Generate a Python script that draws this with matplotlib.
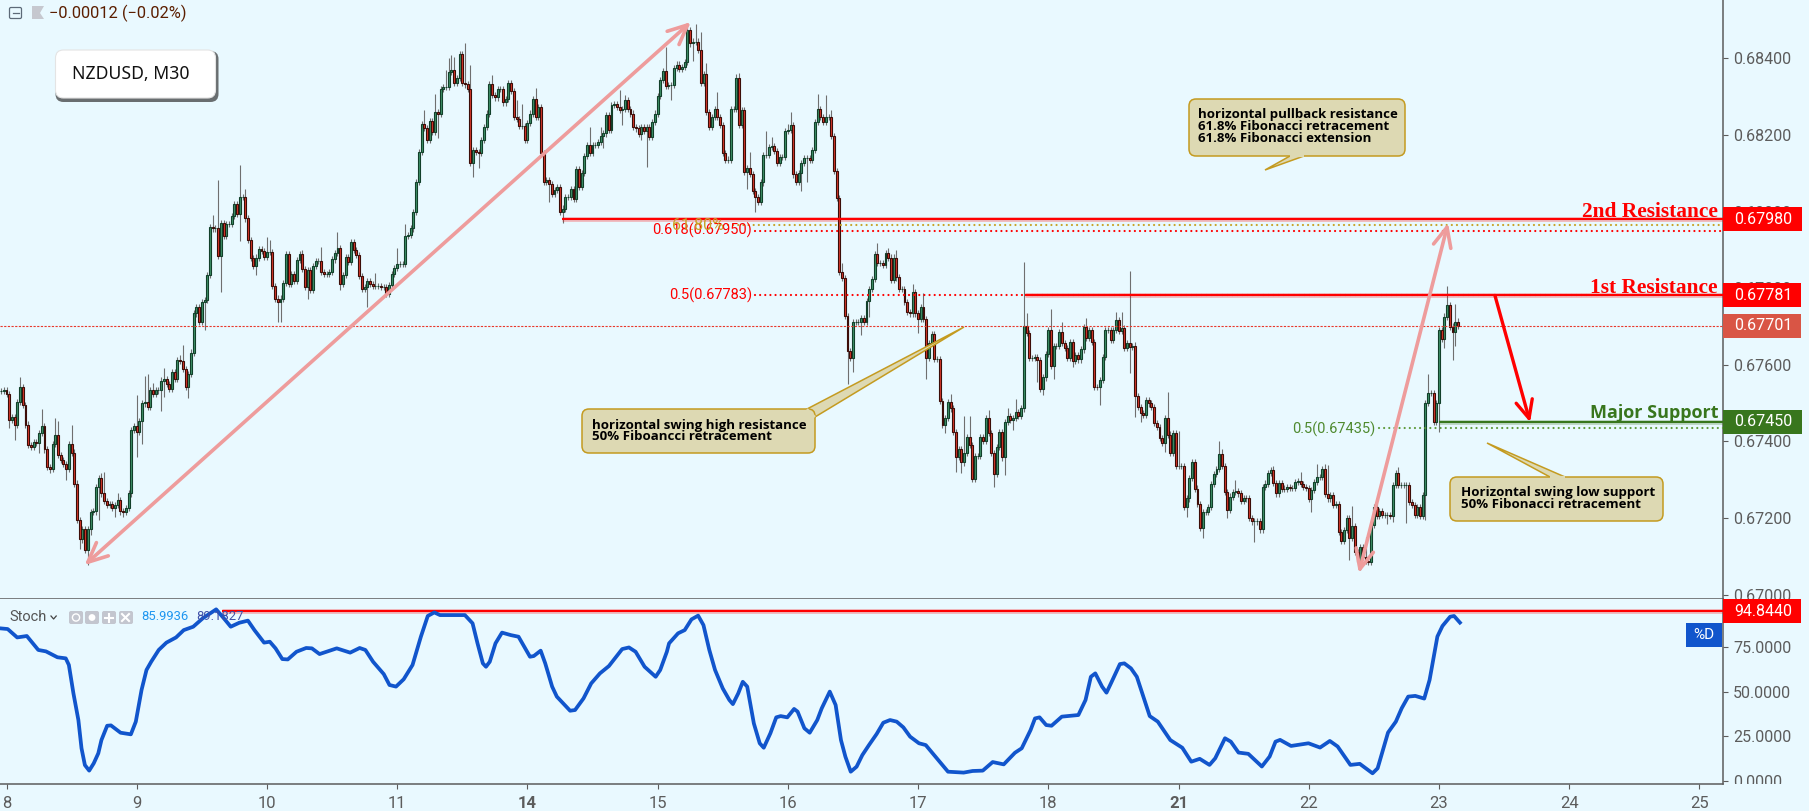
import numpy as np
import matplotlib
matplotlib.use('Agg')
import matplotlib.pyplot as plt
from matplotlib.patches import Circle, FancyBboxPatch, Polygon, Rectangle
from matplotlib.transforms import Bbox

# prices are in points (1e-5), one close per 30 minute bar
closes_wk1 = [67532, 67534, 67523, 67456, 67464, 67442, 67502, 67543, 67495, 67444, 67391, 67386, 67399, 67395, 67421, 67441,
              67379, 67334, 67329, 67393, 67416, 67364, 67351, 67342, 67327, 67392, 67371, 67290, 67194, 67144, 67170, 67116,
              67170, 67216, 67217, 67282, 67304, 67264, 67245, 67234, 67237, 67225, 67233, 67246, 67217, 67215, 67225, 67264,
              67430, 67441, 67424, 67454, 67499, 67504, 67491, 67533, 67525, 67533, 67533, 67559, 67564, 67551, 67538, 67580,
              67562, 67613, 67609, 67588, 67543, 67575, 67632, 67734, 67752, 67711, 67765, 67769]
closes_wk2 = [67834, 67960, 67956, 67956, 67884, 67971, 67936, 67967, 67967, 67988, 68019, 67995, 68037, 68037, 67982, 67926,
              67879, 67858, 67880, 67902, 67898, 67882, 67895, 67895, 67806, 67773, 67765, 67773, 67814, 67888, 67812, 67837,
              67819, 67873, 67888, 67849, 67802, 67847, 67795, 67859, 67872, 67872, 67843, 67836, 67836, 67843, 67875, 67891,
              67906, 67812, 67834, 67882, 67869, 67921, 67900, 67886, 67832, 67799, 67804, 67819, 67811, 67805, 67805, 67805,
              67802, 67802, 67785, 67808, 67837, 67852, 67863, 67863, 67863, 67936, 67939, 67956, 68000, 68078, 68156, 68228,
              68219, 68187, 68237, 68208, 68261, 68254, 68321, 68326, 68326, 68365, 68371, 68337, 68348, 68411, 68337, 68332,
              68319, 68126, 68161, 68156, 68152, 68187, 68221, 68256, 68332, 68304, 68298, 68321, 68321, 68285, 68295, 68336,
              68315, 68248, 68241, 68223, 68223, 68187, 68232, 68256, 68295, 68246, 68272, 68152, 68078, 68082, 68071, 68047,
              68056, 68065, 67998, 68008, 68039, 68039, 68059, 68033, 68110, 68065, 68100, 68146, 68174, 68154, 68174, 68174,
              68182]
closes_wk3 = [68197, 68204, 68252, 68213, 68278, 68281, 68272, 68265, 68269, 68291, 68267, 68256, 68220, 68217, 68202, 68221,
              68210, 68221, 68194, 68233, 68256, 68302, 68343, 68368, 68329, 68331, 68331, 68374, 68384, 68372, 68378, 68391,
              68474, 68439, 68444, 68444, 68423, 68335, 68358, 68259, 68220, 68248, 68267, 68248, 68225, 68154, 68136, 68136,
              68269, 68269, 68350, 68227, 68264, 68104, 68114, 68098, 68053, 68039, 68026, 68076, 68147, 68147, 68169, 68172,
              68159, 68126, 68143, 68143, 68210, 68214, 68225, 68097, 68078, 68101, 68127, 68139, 68139, 68136, 68161, 68234,
              68269, 68246, 68233, 68248, 68248, 68198, 68107, 68036, 67843, 67826, 67727]
closes_wk4 = [67636, 67619, 67712, 67712, 67712, 67721, 67711, 67767, 67797, 67823, 67888, 67865, 67865, 67860, 67891, 67880,
              67821, 67880, 67828, 67799, 67799, 67763, 67737, 67734, 67791, 67734, 67719, 67750, 67719, 67619, 67658, 67680,
              67615, 67615, 67505, 67442, 67460, 67502, 67486, 67425, 67360, 67379, 67345, 67371, 67412, 67390, 67302, 67362,
              67362, 67412, 67402, 67460, 67421, 67369, 67315, 67386, 67425, 67358, 67451, 67467, 67456, 67460, 67477, 67466,
              67486, 67702, 67682, 67617, 67617, 67621, 67612, 67536, 67567, 67628, 67692, 67597, 67649, 67649, 67686, 67656,
              67643, 67619, 67660, 67610, 67625, 67614, 67640, 67699, 67669, 67691, 67660, 67543, 67541, 67560, 67621, 67691,
              67691, 67666, 67691, 67717, 67689, 67697, 67644, 67656, 67647, 67650, 67519, 67489, 67473, 67469, 67508, 67499,
              67490, 67449, 67438, 67408, 67395, 67460, 67418, 67369, 67421, 67336, 67336, 67336, 67229, 67251, 67305, 67345,
              67277, 67236]
closes_wk5 = [67175, 67216, 67216, 67229, 67288, 67316, 67329, 67367, 67336, 67269, 67222, 67256, 67269, 67271, 67264, 67244,
              67253, 67251, 67199, 67191, 67191, 67191, 67170, 67282, 67290, 67318, 67325, 67292, 67264, 67292, 67277, 67276,
              67280, 67279, 67279, 67295, 67296, 67288, 67280, 67279, 67249, 67273, 67295, 67308, 67308, 67327, 67262, 67251,
              67260, 67234, 67236, 67164, 67139, 67169, 67199, 67149, 67180, 67112, 67086, 67125, 67099, 67088, 67084, 67183,
              67229, 67205, 67219, 67208, 67208, 67208, 67205, 67286, 67318, 67286, 67286, 67286, 67286, 67242, 67234, 67208,
              67229, 67205, 67260, 67501, 67527, 67527, 67450, 67501, 67692, 67667, 67726, 67755, 67700, 67685, 67713, 67701]

# notable wicks, the rest of the bars only have a small one
high_bars = [5, 13, 18, 19, 24, 35, 36, 41, 45, 48, 51, 52, 54, 58, 61, 64, 65, 69, 76, 78, 84, 86, 88, 96, 97, 103, 109, 116,
             122, 127, 136, 144, 147, 154, 158, 162, 163, 164, 165, 169, 171, 179, 186, 188, 190, 195, 215, 219, 226, 228, 243,
             254, 256, 258, 262, 270, 274, 280, 282, 288, 289, 299, 302, 304, 308, 321, 325, 328, 334, 338, 348, 353, 355, 362,
             369, 372, 375, 376, 385, 389, 398, 409, 411, 414, 416, 428, 432, 438, 447, 448, 453, 467, 477, 483, 486, 487, 496,
             501, 512, 513, 524, 531, 534]
high_prices = [67567, 67484, 67460, 67453, 67443, 67317, 67319, 67266, 67266, 67521, 67571, 67576, 67553, 67591, 67584, 67625,
               67652, 67666, 67991, 68082, 68021, 68121, 68060, 67934, 67926, 67893, 67899, 67908, 67946, 67924, 67839, 67904,
               67967, 68265, 68307, 68371, 68400, 68408, 68404, 68439, 68382, 68356, 68343, 68291, 68282, 68324, 68221, 68221,
               68317, 68304, 68430, 68489, 68469, 68389, 68313, 68361, 68156, 68210, 68195, 68228, 68259, 68306, 68304, 68265,
               67865, 67917, 67904, 67901, 67812, 67788, 67523, 67466, 67466, 67483, 67486, 67510, 67869, 67734, 67747, 67711,
               67721, 67737, 67737, 67846, 67660, 67530, 67427, 67347, 67401, 67380, 67299, 67336, 67321, 67340, 67340, 67338,
               67231, 67151, 67289, 67332, 67577, 67805, 67759]
low_bars = [1, 3, 12, 16, 22, 27, 30, 31, 34, 40, 43, 48, 50, 57, 58, 67, 73, 79, 86, 92, 100, 101, 111, 123, 133, 159, 172, 174,
            200, 205, 220, 227, 234, 236, 245, 253, 265, 273, 276, 293, 295, 305, 310, 312, 315, 318, 336, 339, 344, 345, 346,
            350, 352, 364, 368, 371, 380, 382, 386, 393, 403, 414, 416, 418, 427, 435, 439, 441, 450, 460, 481, 489, 495, 499,
            509, 511, 516, 523, 528, 530, 533, 534]
low_prices = [67434, 67404, 67371, 67318, 67299, 67119, 67076, 67156, 67195, 67203, 67203, 67358, 67393, 67480, 67517, 67514,
              67691, 67791, 67924, 67834, 67712, 67712, 67773, 67795, 67752, 68191, 68091, 68113, 68026, 67969, 68165, 68226,
              68188, 68117, 68291, 68393, 68126, 68060, 68000, 68054, 68078, 68182, 67550, 67582, 67677, 67725, 67682, 67562,
              67582, 67469, 67421, 67321, 67318, 67282, 67312, 67429, 67556, 67521, 67562, 67593, 67496, 67579, 67464, 67451,
              67373, 67202, 67229, 67149, 67199, 67138, 67216, 67225, 67090, 67064, 67184, 67190, 67188, 67195, 67425, 67645,
              67613, 67648]

# stochastic %D, x in trading days from the "8" tick
stoch_days = [-0.05, 0.009, 0.082, 0.156, 0.244, 0.303, 0.391, 0.455, 0.479, 0.514, 0.552, 0.576, 0.602, 0.635, 0.67, 0.705,
              0.729, 0.773, 0.802, 0.876, 0.955, 0.993, 1.037, 1.075, 1.111, 1.169, 1.228, 1.302, 1.361, 1.434, 1.507, 1.61,
              1.669, 1.722, 1.787, 1.854, 1.904, 1.978, 2.022, 2.066, 2.118, 2.16, 2.227, 2.301, 2.345, 2.404, 2.536, 2.639,
              2.712, 2.756, 2.815, 2.897, 2.941, 2.991, 3.05, 3.118, 3.182, 3.235, 3.285, 3.329, 3.52, 3.579, 3.617, 3.658,
              3.682, 3.711, 3.755, 3.805, 3.873, 3.932, 4.02, 4.049, 4.102, 4.137, 4.19, 4.226, 4.328, 4.366, 4.431, 4.49,
              4.557, 4.626, 4.728, 4.78, 4.831, 4.9, 4.985, 5.02, 5.071, 5.088, 5.157, 5.208, 5.26, 5.311, 5.352, 5.397,
              5.441, 5.5, 5.551, 5.578, 5.619, 5.654, 5.688, 5.739, 5.784, 5.815, 5.866, 5.911, 5.945, 5.996, 6.048, 6.075,
              6.127, 6.168, 6.226, 6.26, 6.322, 6.367, 6.408, 6.442, 6.483, 6.528, 6.572, 6.623, 6.682, 6.733, 6.785, 6.836,
              6.887, 6.939, 7.007, 7.059, 7.144, 7.23, 7.35, 7.419, 7.497, 7.573, 7.658, 7.744, 7.796, 7.864, 7.898, 7.933,
              7.984, 8.025, 8.104, 8.231, 8.286, 8.327, 8.361, 8.413, 8.447, 8.481, 8.55, 8.584, 8.635, 8.68, 8.779, 8.841,
              8.937, 9.029, 9.098, 9.163, 9.238, 9.282, 9.357, 9.402, 9.461, 9.536, 9.64, 9.7, 9.745, 9.78, 9.864, 9.998,
              10.087, 10.162, 10.222, 10.32, 10.392, 10.49, 10.529, 10.609, 10.669, 10.714, 10.764, 10.818, 10.887, 10.928,
              10.988, 11.027, 11.086, 11.116, 11.161]
stoch_values = [85.4, 85, 80.3, 81.1, 73.3, 72.5, 69.2, 68.6, 64.9, 49, 34.1, 18.3, 8.9, 5.8, 9.9, 15.5,
                22.9, 30.9, 31.1, 27, 26.1, 33.2, 50.9, 62.1, 66.7, 73.3, 77.4, 80.3, 84.4, 86.3, 91, 96,
                91, 86.3, 88.5, 89.7, 84.4, 77.4, 77.9, 74.2, 68.2, 68, 72.3, 74.4, 74.2, 71, 74.2, 71.8,
                74.4, 73.3, 66.7, 59.8, 53.7, 52.8, 56.9, 64.9, 80.7, 92.3, 94.3, 92.8, 92.8, 88.2, 77, 65.8,
                63.9, 66.7, 77, 83, 81.6, 80.7, 69.5, 69.9, 72.9, 65.8, 52.8, 47.2, 39.3, 39.7, 46.2, 54.6,
                60.2, 64.3, 73.8, 74.7, 72.3, 63.9, 58.3, 62.1, 72.3, 77, 82.6, 84.4, 90.4, 92.5, 87.2, 73.3,
                62.1, 51.8, 45.3, 43, 49, 55.5, 52.8, 32.2, 21.1, 18.6, 26.7, 35.6, 36.3, 35.6, 40.3, 38.8,
                29.5, 27, 34.1, 40.6, 50, 42.5, 22.9, 13.6, 5.2, 8, 14.5, 20.1, 26.3, 32.6, 34.1, 33.2,
                30, 24.8, 21.1, 20.1, 12.7, 5.2, 4.7, 5.6, 5.8, 10.6, 9.3, 15.8, 18.3, 28.5, 35, 35.6,
                31.3, 30.9, 36, 36.9, 45.3, 58.3, 60.2, 52.8, 49.4, 54.6, 65.4, 65.8, 63, 58.3, 36.3, 33.2,
                22.9, 18.6, 10.8, 12.4, 9, 12.7, 23.9, 22, 15.9, 15.2, 8.1, 13.7, 22, 23, 19.6, 21.1,
                18.7, 22.4, 19.3, 9, 9.6, 4.3, 7.1, 27.1, 33.2, 40.7, 47.2, 47.6, 46.1, 56.5,
                80.8, 86.7, 91.9, 92.3, 88.6]

day_labels = ['8', '9', '10', '11', '14', '15', '16', '17', '18', '21', '22', '23', '24', '25']
price_ticks = [0.67, 0.672, 0.674, 0.676, 0.678, 0.68, 0.682, 0.684]
stoch_ticks = [0, 25, 50, 75]

resistance_2 = 0.6798
resistance_1 = 0.67781
last_price = 0.67701
major_support = 0.6745
fib_618 = 0.6795
fib_618_ext = 0.67965
fib_50_high = 0.67783
fib_50_low = 0.67435
stoch_level = 94.844

BG = '#e9f9ff'
GREY = '#5c5c5c'
RED = '#ff0000'
GREEN = '#38761d'
PINK = '#ee9c9c'
W, H = 1809, 811
BARS_PER_DAY = 48

plt.rcParams['font.family'] = ['Roboto', 'DejaVu Sans']

closes = np.array(closes_wk1 + closes_wk2 + closes_wk3 + closes_wk4 + closes_wk5, dtype=float)
opens = np.r_[closes[0], closes[:-1]]
bar_x = np.arange(len(closes)) - 2
highs = np.maximum(opens, closes) + 8
lows = np.minimum(opens, closes) - 8
for b, p in zip(high_bars, high_prices):
    highs[b + 2] = max(highs[b + 2], p)
for b, p in zip(low_bars, low_prices):
    lows[b + 2] = min(lows[b + 2], p)

fig = plt.figure(figsize=(W / 100, H / 100), dpi=100, facecolor=BG)


def pixel_rect(left, top, right, bottom):
    return [left / W, 1 - bottom / H, (right - left) / W, (bottom - top) / H]


ax = fig.add_axes(pixel_rect(0, 0, 1723, 599), facecolor=BG)
ax2 = fig.add_axes(pixel_rect(0, 599, 1723, 784), facecolor=BG)
xlim = (-2.396, 632.7)
ax.set_xlim(xlim)
ax2.set_xlim(xlim)
ax.set_ylim(0.669885, 0.685525)
ax2.set_ylim(-1.68, 101.8)

# candles
up = closes >= opens
ax.vlines(bar_x, lows / 1e5, highs / 1e5, color='#6f6f6f', lw=0.8, zorder=2)
for mask, face, edge in [(up, '#3f9168', '#12402a'), (~up, '#d9382a', '#3c0d08')]:
    ax.bar(bar_x[mask], (closes[mask] - opens[mask]) / 1e5, bottom=opens[mask] / 1e5, width=0.72,
           color=face, edgecolor=edge, linewidth=0.8, zorder=3)


def level(axis, x0, y, color, halo=True, lw=1.5):
    if halo:
        axis.plot([x0, xlim[1]], [y, y], color=color, lw=lw + 2, alpha=0.25, zorder=4, solid_capstyle='butt')
    axis.plot([x0, xlim[1]], [y, y], color=color, lw=lw, zorder=4, solid_capstyle='butt')


def dotted(x0, y, color):
    ax.plot([x0, xlim[1]], [y, y], color=color, lw=1.6, ls=(0, (0.01, 2.3)), dash_capstyle='round', zorder=4)


def px_to_bar(px):
    return (px - 6.5) / 130.25 * BARS_PER_DAY


ax.plot(xlim, [last_price, last_price], color='#e8392c', lw=0.8, ls=(0, (2, 1.3)), zorder=4)
dotted(px_to_bar(728), fib_618_ext, '#c9a227')
dotted(px_to_bar(755), fib_618, RED)
dotted(px_to_bar(755), fib_50_high, RED)
dotted(px_to_bar(1379), fib_50_low, '#5f9b3c')
level(ax, px_to_bar(562), resistance_2, RED)
level(ax, px_to_bar(1025), resistance_1, RED)
level(ax, px_to_bar(1439), major_support, GREEN)
level(ax2, px_to_bar(222), stoch_level, RED)

# trend arrows
for (d0, p0), (d1, p1) in [((0.60, 0.67077), (5.255, 0.68495)), ((10.385, 0.67056), (11.07, 0.6797))]:
    ax.annotate('', xy=(d1 * BARS_PER_DAY, p1), xytext=(d0 * BARS_PER_DAY, p0), zorder=6,
                arrowprops=dict(arrowstyle='<->,head_length=0.7,head_width=0.32', color=PINK, lw=2.6,
                                mutation_scale=20, shrinkA=0, shrinkB=0))
ax.annotate('', xy=(11.70 * BARS_PER_DAY, major_support), xytext=(11.43 * BARS_PER_DAY, resistance_1), zorder=6,
            arrowprops=dict(arrowstyle='->,head_length=0.65,head_width=0.3', color=RED, lw=2.4,
                            mutation_scale=20, shrinkA=0, shrinkB=0))

ax2.plot(np.array(stoch_days) * BARS_PER_DAY, stoch_values, color='#1155cc', lw=2.7, zorder=5,
         solid_joinstyle='round')

# axes
for a in (ax, ax2):
    for side in ('top', 'left'):
        a.spines[side].set_visible(False)
    a.spines['right'].set_color(GREY)
    a.spines['bottom'].set_color(GREY)
    a.spines['right'].set_linewidth(1.1)
    a.spines['bottom'].set_linewidth(1.1)
    a.yaxis.tick_right()
    a.tick_params(axis='y', length=3.6, color=GREY, labelcolor=GREY, labelsize=11.5, pad=3.8, width=0.8)
ax.tick_params(axis='x', length=0)
ax.set_xticks([])
ax.set_yticks(price_ticks)
ax.set_yticklabels(['%.5f' % t for t in price_ticks])
ax2.set_yticks(stoch_ticks)
ax2.set_yticklabels(['%.4f' % t for t in stoch_ticks])
ax2.set_xticks(np.arange(len(day_labels)) * BARS_PER_DAY)
ax2.set_xticklabels(day_labels)
ax2.tick_params(axis='x', length=3.6, color=GREY, labelcolor=GREY, labelsize=12, pad=5, width=0.8)
for lbl in ax2.get_xticklabels():
    if lbl.get_text() in ('14', '21'):
        lbl.set_fontweight('bold')
for lbl in ax2.get_yticklabels():
    lbl.set_clip_on(True)
    lbl.set_clip_box(Bbox([[1724, H - 784], [W, H - 600]]))

# everything placed in screen pixels goes on an overlay
ov = fig.add_axes([0, 0, 1, 1], zorder=5)
ov.set_xlim(0, W)
ov.set_ylim(H, 0)
ov.axis('off')
ov.patch.set_alpha(0)


def tag(top, text, color, right=1802):
    ov.add_patch(Rectangle((1723, top), right - 1723, 23.7, facecolor=color, edgecolor='none'))
    ov.text(1734, top + 12, text, color='white', fontsize=11.5, va='center', ha='left')


tag(207, '0.67980', RED)
tag(283, '0.67781', RED, 1801)
tag(314, '0.67701', '#d95545', 1801)
tag(410, '0.67450', GREEN)
tag(599, '94.8440', RED, 1801)
ov.add_patch(Rectangle((1686, 623), 36, 23.7, facecolor='#1155cc', edgecolor='none'))
ov.text(1704, 635, '%D', color='white', fontsize=11, ha='center', va='center')

SERIF = ['Liberation Serif', 'DejaVu Serif']
ov.text(1718, 212, '2nd Resistance', color=RED, fontsize=15.4, fontweight='bold', family=SERIF, ha='right', va='center')
ov.text(1718, 288, '1st Resistance', color=RED, fontsize=15.4, fontweight='bold', family=SERIF, ha='right', va='center')
ov.text(1718, 413, 'Major Support', color=GREEN, fontsize=13, fontweight='bold', family=['Open Sans'], ha='right', va='center')

ov.text(752, 230, '0.618(0.67950)', color=RED, fontsize=10.5, ha='right', va='center')
ov.text(752, 295, '0.5(0.67783)', color=RED, fontsize=10.5, ha='right', va='center')
ov.text(724, 226, '61.80%', color='#c9a227', fontsize=11.5, ha='right', va='center', zorder=6)
ov.text(1375, 429, '0.5(0.67435)', color='#4f8a2f', fontsize=10.5, ha='right', va='center')


def callout(left, top, right, bottom, tail, lines, text_x, text_ys):
    fill, edge = '#ddd9b3', '#c49b20'
    ov.add_patch(Polygon(tail, closed=True, facecolor=fill, edgecolor=edge, lw=1.1))
    ov.add_patch(FancyBboxPatch((left + 6, top + 6), right - left - 12, bottom - top - 12,
                                boxstyle='round,pad=6,rounding_size=7', facecolor=fill, edgecolor=edge, lw=1.1))
    # hide the edge where the tail meets the box
    ov.plot([tail[0][0], tail[-1][0]], [tail[0][1], tail[-1][1]], color=fill, lw=1.6, solid_capstyle='butt')
    for line, y in zip(lines, text_ys):
        ov.text(text_x, y, line, color='black', fontsize=9.5, fontweight='bold', family=['Open Sans'], va='center')


callout(1189, 99, 1405, 156, [(1290, 156), (1265, 170), (1304, 156)],
        ['horizontal pullback resistance', '61.8% Fibonacci retracement', '61.8% Fibonacci extension'],
        1198, [114.5, 126.5, 138.5])
callout(582, 409, 815, 453, [(807, 409), (964, 327), (815, 417)],
        ['horizontal swing high resistance', '50% Fiboancci retracement'], 592, [425, 437])
callout(1450, 477, 1663, 521, [(1550, 477), (1487, 443), (1565, 477)],
        ['Horizontal swing low support', '50% Fibonacci retracement'], 1461, [492.5, 504])

# symbol box
ov.add_patch(FancyBboxPatch((60.5, 56), 153, 41, boxstyle='round,pad=5,rounding_size=8', facecolor='#333333',
                            edgecolor='none', alpha=0.7))
ov.add_patch(FancyBboxPatch((60.5, 55), 150, 38, boxstyle='round,pad=5,rounding_size=8', facecolor='white',
                            edgecolor='#e4e4e4', lw=0.8))
ov.text(72.5, 74, 'NZDUSD, M30', color='#111111', fontsize=12.7, family=['Noto Sans'], va='center')

# header
ov.add_patch(FancyBboxPatch((10, 8), 11, 10, boxstyle='round,pad=0.5,rounding_size=1.5', facecolor='none',
                            edgecolor='#5d6a78', lw=0.9))
ov.plot([12.5, 19], [13, 13], color='#5d6a78', lw=0.9)
ov.add_patch(Polygon([(32, 6), (44, 6), (40, 13), (44, 19), (32, 19)], closed=True, facecolor='#c6c8cf', edgecolor='none'))
ov.text(49, 13.5, '\u22120.00012 (\u22120.02%)', color='#5b1e00', fontsize=11.8, va='center')

# stochastic legend
ov.text(9, 617, 'Stoch', color='#555555', fontsize=10.5, va='center')
ov.plot([51, 53.6, 56.2], [616, 619, 616], color='#444444', lw=0.9)
for left in (69, 85, 102, 119):
    ov.add_patch(FancyBboxPatch((left + 1, 612), 12, 11, boxstyle='round,pad=1,rounding_size=2',
                                facecolor='#c3c6cf', edgecolor='none'))
ov.add_patch(Circle((76, 617.5), 3.6, facecolor='none', edgecolor='white', lw=1))
ov.add_patch(Circle((92, 617.5), 3.4, facecolor='white', edgecolor='none'))
ov.plot([105, 113], [617.5, 617.5], color='white', lw=1.5)
ov.plot([109, 109], [613.5, 621.5], color='white', lw=1.5)
ov.plot([122, 129], [614, 621], color='white', lw=1.5)
ov.plot([122, 129], [621, 614], color='white', lw=1.5)
ov.text(141.5, 617, '85.9936', color='#1e96f0', fontsize=9.4, va='center')
ov.text(196, 617, '89.1827', color='#3d4fa8', fontsize=9.4, va='center')

fig.savefig('out.png', dpi=100, facecolor=BG)
